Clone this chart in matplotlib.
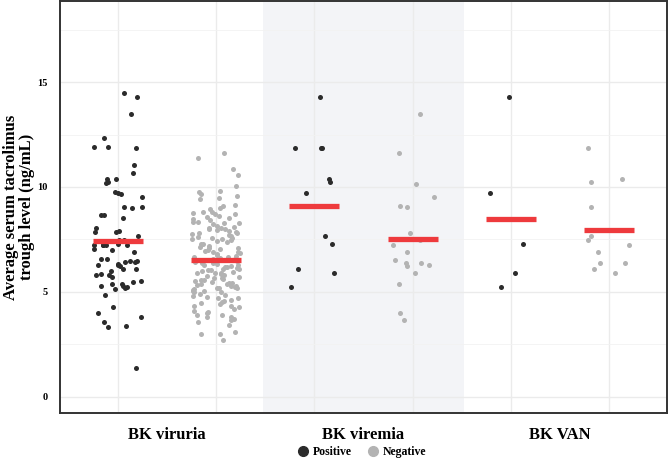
import numpy as np
import matplotlib
matplotlib.use("Agg")
import matplotlib.pyplot as plt
from matplotlib.lines import Line2D

plt.rcParams["font.family"] = ["Liberation Serif", "DejaVu Serif"]
plt.rcParams["font.weight"] = "bold"

# categories and groups
categories = ["BK viruria", "BK viremia", "BK VAN"]
status = ["Positive", "Negative"]

# average tacrolimus trough levels (ng/mL)
viruria_pos = [14.49, 14.29, 13.49, 12.33, 11.89, 11.86, 11.89, 11.03, 10.68, 10.40,
               10.25, 10.37, 10.19, 9.75, 9.71, 9.68, 9.52, 9.02, 9.05, 9.05,
               8.68, 8.65, 8.51, 8.02, 7.83, 7.89, 7.83, 7.67, 7.49, 7.45,
               7.30, 7.25, 7.25, 7.22, 7.25, 7.25, 6.98, 7.05, 6.92, 6.57,
               6.58, 6.45, 6.35, 6.41, 6.41, 6.49, 6.27, 6.22, 6.27, 6.10,
               5.97, 6.08, 5.78, 5.73, 5.80, 5.86, 5.48, 5.37, 5.51, 5.38,
               5.27, 5.16, 5.21, 5.27, 5.14, 4.87, 4.29, 3.98, 3.78, 3.54,
               3.38, 3.33, 1.37]
viruria_neg = [11.60, 11.40, 10.84, 10.59, 10.06, 9.80, 9.75, 9.65, 9.56, 9.46,
               9.41, 9.14, 9.08, 8.99,
               8.94, 8.81, 8.81, 8.76, 8.71, 8.70, 8.60, 8.56, 8.54, 8.46,
               8.41, 8.35, 8.35, 8.30, 8.26, 8.22, 8.16, 8.10, 8.05, 8.05, 8.00, 8.00,
               7.94, 7.90, 7.86, 7.82, 7.80, 7.74, 7.70, 7.65, 7.62, 7.59,
               7.55, 7.52, 7.50, 7.46, 7.42, 7.38, 7.30, 7.26, 7.20, 7.16,
               7.10, 7.07, 7.03, 7.00,
               6.96, 6.92, 6.88, 6.83, 6.80, 6.75, 6.70, 6.68, 6.62, 6.58,
               6.55, 6.50, 6.46, 6.42, 6.38, 6.35, 6.30, 6.27, 6.22, 6.18,
               6.16, 6.11, 6.08, 6.05, 6.03, 6.00, 6.64, 6.36, 6.12,
               5.96, 5.92, 5.88, 5.88, 5.84, 5.80, 5.76, 5.71, 5.68, 5.64,
               5.60, 5.55, 5.51, 5.48, 5.44, 5.40, 5.37, 5.33, 5.30, 5.27,
               5.22, 5.18, 5.16, 5.12, 5.08, 5.05, 5.02, 5.58, 5.35, 5.20,
               4.97, 4.97, 4.90, 4.84, 4.79, 4.75, 4.72, 4.69, 4.62, 4.57,
               4.52, 4.46, 4.40, 4.33, 4.32, 4.26, 4.18, 4.10, 4.02,
               3.97, 3.90, 3.89, 3.81, 3.81, 3.70, 3.65, 3.57, 3.41, 3.10,
               3.00, 2.99, 2.70]
viremia_pos = [14.29, 11.88, 11.88, 11.88, 10.26, 10.38, 9.70, 7.65, 7.30, 5.89,
               6.07, 5.24]
viremia_neg = [13.49, 11.60, 10.16, 9.52, 9.03, 9.07, 7.81, 7.45, 7.22, 6.90,
               6.51, 6.38, 6.27, 6.24, 6.37, 5.89, 5.35, 3.97, 3.65]
van_pos = [14.29, 9.70, 7.30, 5.89, 5.24]
van_neg = [11.86, 10.37, 10.26, 9.03, 7.65, 7.45, 7.22, 6.90, 6.38, 6.37,
           5.89, 6.08]

# group means as drawn (red bars)
group_means = [7.40, 6.50, 9.10, 7.52, 8.48, 7.95]

groups = [viruria_pos, viruria_neg, viremia_pos, viremia_neg, van_pos, van_neg]
colors = ["#2b2b2b", "#b3b3b3"]

fig = plt.figure(figsize=(6.69, 4.59), dpi=100)
ax = fig.add_axes([60 / 669, 1 - 413 / 459, 607 / 669, 412 / 459])

ax.axvspan(2.48, 4.52, color="#f3f4f7", zorder=0, lw=0)

rng = np.random.default_rng(7)
for i, vals in enumerate(groups):
    pos = i + 1
    jit = rng.uniform(-0.25, 0.25, len(vals))
    ax.scatter(pos + jit, vals, s=13, color=colors[i % 2], lw=0, zorder=3)
    ax.hlines(group_means[i], pos - 0.255, pos + 0.255, color="#ee3a3d", lw=3.8, zorder=4)

ax.set_xlim(0.41, 6.59)
ax.set_ylim(-0.78, 18.87)
ax.set_yticks([0, 5, 10, 15])
ax.set_yticks([2.5, 7.5, 12.5, 17.5], minor=True)
ax.set_xticks(range(1, 7))
ax.set_xticklabels([])
ax.tick_params(axis="x", length=0)
ax.tick_params(axis="y", which="both", length=0, labelsize=7.5, pad=9)
ax.grid(True, which="major", color="#ebebeb", lw=1.0, zorder=1)
ax.grid(True, which="minor", axis="y", color="#f2f2f2", lw=0.6, zorder=1)
ax.set_axisbelow(True)
for sp in ax.spines.values():
    sp.set_color("#333333")
    sp.set_linewidth(1.4)

for k, cat in enumerate(categories):
    ax.text(2 * k + 1.5, -0.035, cat, transform=ax.get_xaxis_transform(),
            ha="center", va="top", fontsize=12, fontweight="bold")

ax.set_ylabel("Average serum tacrolimus\ntrough level (ng/mL)", fontsize=12,
              fontweight="bold", linespacing=1.0)
ax.yaxis.set_label_coords(-0.042, 0.5)

handles = [Line2D([], [], marker="o", ls="", color=c, markersize=7) for c in colors]
fig.legend(handles, status, loc="lower center", bbox_to_anchor=(0.54, -0.022),
           ncol=2, frameon=False, fontsize=8.5, handletextpad=0.2,
           columnspacing=1.2, handlelength=1.2)

fig.savefig("out.png", dpi=100)
